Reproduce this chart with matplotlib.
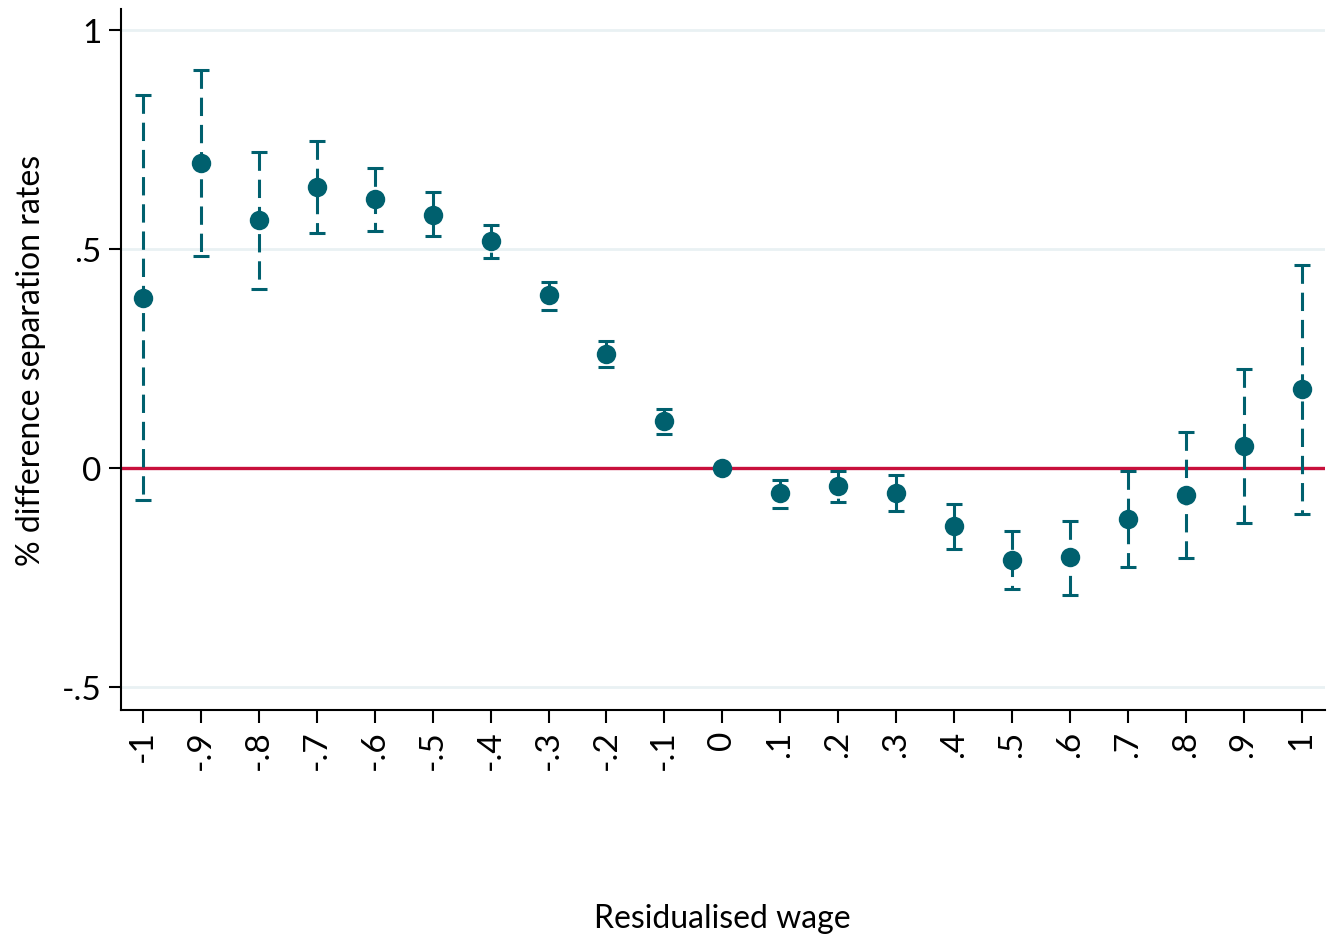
import numpy as np
import matplotlib
matplotlib.use("Agg")
import matplotlib.pyplot as plt

# Residualised wage bins
wage_bins = [-1.0, -0.9, -0.8, -0.7, -0.6, -0.5, -0.4, -0.3, -0.2, -0.1, 0.0,
             0.1, 0.2, 0.3, 0.4, 0.5, 0.6, 0.7, 0.8, 0.9, 1.0]
tick_labels = ["-1", "-.9", "-.8", "-.7", "-.6", "-.5", "-.4", "-.3", "-.2", "-.1", "0",
               ".1", ".2", ".3", ".4", ".5", ".6", ".7", ".8", ".9", "1"]

# Point estimates and 95% confidence bounds (reference bin 0 has no interval)
estimate = [0.388, 0.696, 0.566, 0.642, 0.614, 0.578, 0.518, 0.395, 0.260, 0.107, 0.0,
            -0.057, -0.041, -0.057, -0.132, -0.210, -0.203, -0.116, -0.062, 0.050, 0.180]
ci_upper = [0.852, 0.909, 0.721, 0.747, 0.685, 0.630, 0.555, 0.425, 0.290, 0.135, np.nan,
            -0.027, -0.007, -0.016, -0.082, -0.144, -0.121, -0.007, 0.082, 0.226, 0.463]
ci_lower = [-0.073, 0.484, 0.409, 0.537, 0.541, 0.530, 0.479, 0.361, 0.231, 0.078, np.nan,
            -0.091, -0.078, -0.098, -0.185, -0.276, -0.290, -0.226, -0.205, -0.126, -0.105]

y_ticks = [-0.5, 0.0, 0.5, 1.0]
y_tick_labels = ["-.5", "0", ".5", "1"]

teal = "#00606E"
red = "#C8103C"
grid_col = "#E9F1F3"

plt.rcParams["font.family"] = ["Lato", "DejaVu Sans"]

fig = plt.figure(figsize=(13.3, 9.37), dpi=100)
ax = fig.add_axes([0.091, 0.2412, 0.905, 0.748])

x = np.array(wage_bins)
est = np.array(estimate)
hi = np.array(ci_upper)
lo = np.array(ci_lower)
ok = ~np.isnan(hi)

# Horizontal grid lines
for yv in y_ticks:
    if yv != 0:
        ax.axhline(yv, color=grid_col, lw=2.0, zorder=0)

# Zero reference line
ax.axhline(0, color=red, lw=2.4, zorder=1)

# Dashed confidence intervals, drawn from the upper bound downward
ax.vlines(x[ok], hi[ok], lo[ok], colors=teal, linewidth=2.2,
          linestyles=[(0, (6.0, 2.9))], zorder=2)
# Caps
ax.plot(x[ok], hi[ok], linestyle="none", marker="_", markersize=11.5,
        markeredgewidth=2.2, color=teal, zorder=2)
ax.plot(x[ok], lo[ok], linestyle="none", marker="_", markersize=11.5,
        markeredgewidth=2.2, color=teal, zorder=2)

# Point estimates
ax.plot(x, est, linestyle="none", marker="o", markersize=14,
        color=teal, markeredgewidth=0, zorder=3)

ax.set_xlim(-1.038, 1.040)
ax.set_ylim(-0.5525, 1.048)

ax.set_xticks(wage_bins)
ax.set_xticklabels(tick_labels, rotation=90, fontsize=24)
ax.set_yticks(y_ticks)
ax.set_yticklabels(y_tick_labels, fontsize=24)
ax.tick_params(axis="both", direction="out", length=9, width=1.5, color="black", pad=5)

for side in ["top", "right"]:
    ax.spines[side].set_visible(False)
for side in ["left", "bottom"]:
    ax.spines[side].set_linewidth(1.5)

ax.set_ylabel("% difference separation rates", fontsize=23)
ax.yaxis.set_label_coords(-0.062, 0.5)
fig.text(0.543, 0.019, "Residualised wage", fontsize=23, ha="center", va="center")

fig.savefig("out.png", dpi=100, facecolor="white")
